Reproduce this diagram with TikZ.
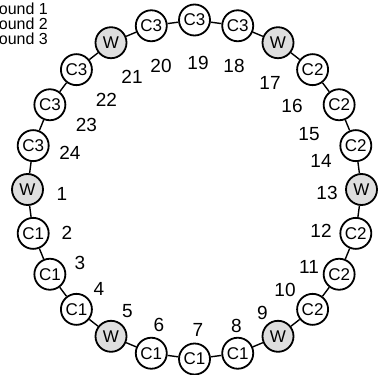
\documentclass[tikz,border=0pt]{standalone}
\usepackage{fontspec}
\setmainfont{Liberation Sans}
\begin{document}
\begin{tikzpicture}[x=1pt,y=-1pt,
  ring/.style={circle,draw,line width=1.8pt,minimum size=31pt,inner sep=0pt,font=\fontsize{17}{17}\selectfont},
  cnode/.style={ring,fill=white},
  wnode/.style={ring,fill=black!13},
  lab/.style={font=\fontsize{19}{19}\selectfont,inner sep=0pt},
  conn/.style={line width=1.4pt},
  leg/.style={font=\fontsize{16}{16}\selectfont,anchor=base east,inner sep=0pt}]
\useasboundingbox (0,0) rectangle (379,374);
\clip (0,0) rectangle (379,374);
\foreach \i/\s/\t in {1/wnode/W,2/cnode/C1,3/cnode/C1,4/cnode/C1,5/wnode/W,6/cnode/C1,7/cnode/C1,8/cnode/C1,
  9/wnode/W,10/cnode/C2,11/cnode/C2,12/cnode/C2,13/wnode/W,14/cnode/C2,15/cnode/C2,16/cnode/C2,
  17/wnode/W,18/cnode/C3,19/cnode/C3,20/cnode/C3,21/wnode/W,22/cnode/C3,23/cnode/C3,24/cnode/C3}{
  \pgfmathsetmacro\a{180+(\i-1)*15}
  \node[\s] (n\i) at ({194.5+167*cos(\a)},{189.5-169.5*sin(\a)}) {\t};
}
\foreach \i in {1,...,24}{
  \pgfmathtruncatemacro\j{mod(\i,24)+1}
  \draw[conn] (n\i) -- (n\j);
}
\foreach \i/\x/\y in {1/62/194,2/67/233,3/80/263,4/99/289,5/127.5/311.5,6/159/325,7/198/329.5,8/236.5/325.5,
  9/262.5/312.5,10/285/290,11/309/267,12/321/230.5,13/327/193,14/321/160.5,15/309/134.5,16/292/105.5,
  17/270/82.5,18/234/66,19/198/63,20/161/66,21/132/77,22/106.5/99.5,23/86.5/124.5,24/70/153}{
  \node[lab] (l\i) at (\x,\y) {\i};
}
\node[leg] (r1) at (48,15) {Round 1};
\node[leg] (r2) at (48,30) {Round 2};
\node[leg] (r3) at (48,45) {Round 3};
\end{tikzpicture}
\end{document}
